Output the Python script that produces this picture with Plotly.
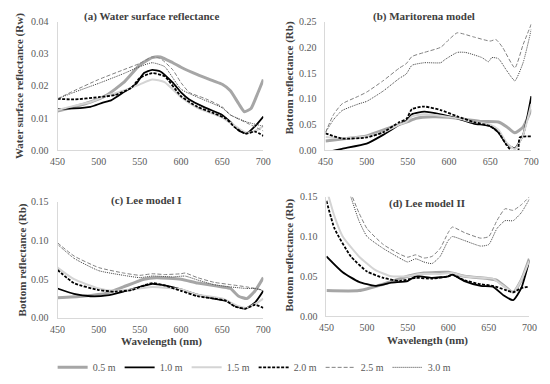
import plotly.graph_objects as go

# ---------------- data ----------------
SERIES_NAMES = ["0.5 m", "1.0 m", "1.5 m", "2.0 m", "2.5 m", "3.0 m"]

# (a) Water surface reflectance
A05_X = [450,470,490,510,530,550,565,575,590,600,620,640,650,660,670,677,685,692,700]
A05_Y = [0.0122,0.0135,0.015,0.0172,0.021,0.0265,0.0288,0.029,0.0272,0.0258,0.0235,0.0215,0.0205,0.0185,0.0145,0.012,0.013,0.017,0.022]
A10_X = [450,470,490,505,515,530,545,555,565,575,590,600,610,630,650,660,670,680,690,700]
A10_Y = [0.0128,0.013,0.0135,0.0148,0.0155,0.018,0.0205,0.024,0.025,0.0245,0.021,0.018,0.0158,0.0132,0.011,0.0088,0.0062,0.0053,0.0075,0.0105]
A15_X = [450,470,490,510,530,550,565,580,600,620,650,670,680,690,700]
A15_Y = [0.0125,0.0138,0.015,0.017,0.0185,0.0205,0.022,0.0212,0.0165,0.0132,0.0102,0.0068,0.0055,0.006,0.0075]
A20_X = [450,470,500,520,540,550,565,580,600,620,640,655,665,678,690,700]
A20_Y = [0.016,0.0158,0.0165,0.0172,0.0195,0.0225,0.024,0.023,0.0168,0.0135,0.0115,0.0098,0.0072,0.0052,0.0058,0.0045]
A25_X = [450,470,500,530,550,565,575,590,600,610,630,650,660,680,700]
A25_Y = [0.016,0.0185,0.022,0.025,0.027,0.029,0.0285,0.025,0.021,0.018,0.016,0.0135,0.011,0.0085,0.006]
A30_X = [450,470,500,530,550,565,580,600,620,650,660,680,700]
A30_Y = [0.016,0.018,0.0208,0.0238,0.026,0.0272,0.026,0.019,0.0165,0.0132,0.011,0.0088,0.0075]

# (b) Maritorena model
B05_X = [450,470,500,530,550,560,580,600,620,640,660,670,680,690,700]
B05_Y = [0.018,0.022,0.028,0.045,0.056,0.062,0.065,0.064,0.06,0.056,0.055,0.046,0.034,0.045,0.08]
B10_X = [450,470,500,520,540,548,555,570,590,610,630,650,660,670,680,690,700]
B10_Y = [-0.004,0.003,0.013,0.03,0.05,0.057,0.07,0.075,0.07,0.062,0.052,0.047,0.035,0.012,0.004,0.03,0.105]
B15_X = [450,470,500,520,540,548,555,570,590,610,630,650,660,670,680,690,700]
B15_Y = [0.026,0.024,0.027,0.035,0.05,0.055,0.066,0.07,0.067,0.062,0.055,0.05,0.04,0.015,0.002,0.03,0.09]
B20_X = [450,470,500,520,540,548,555,570,590,610,630,650,660,670,680,684,686,700]
B20_Y = [0.033,0.023,0.025,0.035,0.055,0.06,0.08,0.085,0.078,0.066,0.055,0.047,0.035,0.01,-0.01,-0.03,0.025,0.027]
B25_X = [450,460,470,490,500,520,540,548,555,570,590,600,610,630,650,657,665,680,690,700]
B25_Y = [0.035,0.07,0.09,0.105,0.113,0.135,0.16,0.168,0.182,0.19,0.2,0.215,0.228,0.22,0.212,0.215,0.2,0.16,0.205,0.245]
B30_X = [450,460,470,490,500,520,540,548,555,570,590,595,610,620,640,648,652,660,670,680,690,700]
B30_Y = [0.035,0.06,0.077,0.09,0.095,0.115,0.14,0.148,0.165,0.17,0.17,0.176,0.19,0.19,0.18,0.172,0.18,0.178,0.155,0.135,0.17,0.235]

# (c) Lee model I
C05_X = [450,480,510,530,555,570,600,620,650,660,670,680,690,700]
C05_Y = [0.026,0.028,0.032,0.04,0.05,0.052,0.05,0.045,0.04,0.038,0.028,0.025,0.035,0.052]
C10_X = [450,470,490,510,530,550,565,580,600,620,640,655,665,678,690,700]
C10_Y = [0.038,0.031,0.028,0.029,0.034,0.04,0.044,0.042,0.037,0.03,0.025,0.022,0.016,0.012,0.02,0.035]
C15_X = [450,470,500,520,550,565,590,600,620,650,670,680,690,700]
C15_Y = [0.065,0.05,0.038,0.035,0.038,0.04,0.038,0.037,0.03,0.025,0.015,0.013,0.018,0.025]
C20_X = [450,470,500,520,540,555,565,580,600,620,640,655,665,678,690,700]
C20_Y = [0.062,0.045,0.036,0.034,0.036,0.042,0.045,0.042,0.035,0.028,0.025,0.022,0.015,0.012,0.017,0.013]
C25_X = [450,470,500,530,550,565,580,600,605,620,640,660,680,700]
C25_Y = [0.097,0.08,0.065,0.058,0.055,0.057,0.056,0.057,0.058,0.052,0.046,0.043,0.04,0.036]
C30_X = [450,470,500,530,550,565,590,605,620,640,660,680,690,700]
C30_Y = [0.095,0.077,0.061,0.055,0.052,0.054,0.053,0.054,0.049,0.043,0.04,0.038,0.038,0.035]

# (d) Lee model II
D05_X = [450,490,520,550,570,600,620,650,660,680,690,700]
D05_Y = [0.032,0.032,0.04,0.05,0.054,0.055,0.05,0.047,0.045,0.03,0.045,0.072]
D10_X = [450,470,490,510,530,550,560,580,600,605,620,640,655,668,680,690,700]
D10_Y = [0.075,0.055,0.043,0.038,0.042,0.044,0.05,0.048,0.05,0.052,0.044,0.038,0.037,0.026,0.02,0.035,0.07]
D15_X = [450,460,470,490,510,530,550,565,590,605,620,640,655,665,680,690,700]
D15_Y = [0.16,0.125,0.1,0.075,0.058,0.05,0.05,0.053,0.053,0.054,0.05,0.048,0.047,0.04,0.03,0.045,0.07]
D20_X = [450,460,480,500,520,540,560,580,600,605,620,640,655,670,680,690,700]
D20_Y = [0.145,0.11,0.075,0.056,0.048,0.044,0.048,0.047,0.05,0.052,0.045,0.04,0.038,0.033,0.03,0.035,0.037]
D25_X = [470,480,490,500,520,540,550,560,570,580,590,600,605,620,640,650,660,670,680,690,700]
D25_Y = [0.185,0.155,0.13,0.11,0.09,0.078,0.074,0.077,0.073,0.075,0.085,0.105,0.112,0.105,0.098,0.1,0.12,0.135,0.133,0.14,0.15]
D30_X = [470,480,490,500,520,540,550,560,570,580,590,600,605,620,640,650,660,670,680,690,700]
D30_Y = [0.18,0.15,0.12,0.1,0.085,0.073,0.068,0.072,0.068,0.066,0.075,0.095,0.1,0.095,0.088,0.09,0.11,0.12,0.12,0.13,0.147]

PANEL_TITLES = ["(a) Water surface reflectance", "(b) Maritorena model", "(c) Lee model I", "(d) Lee model II"]
Y_TITLES = ["Water surface reflectance (Rw)", "Bottom reflectance (Rb)", "Bottom reflectance (Rb)", "Bottom reflectance (Rb)"]
X_TITLE = "Wavelength (nm)"
X_TICKS = [450, 500, 550, 600, 650, 700]

# ---------------- styles / layout ----------------
STYLES = [
    dict(color="#A6A6A6", width=3),
    dict(color="#000000", width=1.8),
    dict(color="#D4D4D4", width=2),
    dict(color="#000000", width=1.8, dash="3px,1.5px"),
    dict(color="#808080", width=1, dash="4px,2px"),
    dict(color="#404040", width=1, dash="1px,1px"),
]

panels = [
    [(A05_X, A05_Y), (A10_X, A10_Y), (A15_X, A15_Y), (A20_X, A20_Y), (A25_X, A25_Y), (A30_X, A30_Y)],
    [(B05_X, B05_Y), (B10_X, B10_Y), (B15_X, B15_Y), (B20_X, B20_Y), (B25_X, B25_Y), (B30_X, B30_Y)],
    [(C05_X, C05_Y), (C10_X, C10_Y), (C15_X, C15_Y), (C20_X, C20_Y), (C25_X, C25_Y), (C30_X, C30_Y)],
    [(D05_X, D05_Y), (D10_X, D10_Y), (D15_X, D15_Y), (D20_X, D20_Y), (D25_X, D25_Y), (D30_X, D30_Y)],
]

W, H = 550, 384
# pixel boxes: (left, right, top, bottom)
boxes = [(51, 263, 16, 149), (327, 539, 16, 149), (51, 263, 202, 322), (328, 537, 197, 320)]
y_ranges = [[0, 0.04], [0, 0.25], [0, 0.15], [0, 0.15]]
y_dticks = [0.01, 0.05, 0.05, 0.05]
title_pos = [(148, 11), (428, 11), (143, 201), (432, 204)]
ytitle_pos = [(12, 83), (290, 74), (15, 262), (290, 257)]
xtitle_pos = [None, None, (158, 346), (432, 345)]

FONT = "Liberation Serif, Times New Roman, DejaVu Serif, serif"
TICK_COLOR = "#595959"
TITLE_COLOR = "#404040"

fig = go.Figure()
layout = dict()
annotations = []


def ann(text, px, py, angle=0):
    return dict(
        text="<b>" + text + "</b>", xref="paper", yref="paper",
        x=px / W, y=1 - py / H, textangle=angle, xanchor="center", yanchor="middle",
        showarrow=False, font=dict(family=FONT, size=11, color=TITLE_COLOR),
    )


for i, (series, box) in enumerate(zip(panels, boxes)):
    n = "" if i == 0 else str(i + 1)
    l, r, t, b = box
    layout["xaxis" + n] = dict(
        domain=[l / W, r / W], range=[450, 700], tickvals=X_TICKS, showgrid=False,
        zeroline=False, showline=True, linecolor="#D9D9D9", linewidth=1, ticks="",
        anchor="y" + n, ticklabelstandoff=2,
        tickfont=dict(family=FONT, size=10, color=TICK_COLOR),
    )
    layout["yaxis" + n] = dict(
        domain=[1 - b / H, 1 - t / H], range=y_ranges[i], dtick=y_dticks[i],
        tickformat=".2f", showgrid=False, zeroline=False, showline=True,
        linecolor="#D9D9D9", linewidth=1, ticks="", ticklabelstandoff=6,
        anchor="x" + n, tickfont=dict(family=FONT, size=10, color=TICK_COLOR),
    )
    for j, (xs, ys) in enumerate(series):
        line = dict(STYLES[j], shape="spline", smoothing=0.5)
        fig.add_trace(go.Scatter(
            x=xs, y=ys, mode="lines", name=SERIES_NAMES[j], line=line,
            xaxis="x" + n, yaxis="y" + n, showlegend=(i == 0), legendrank=j,
        ))
    annotations.append(ann(PANEL_TITLES[i], *title_pos[i]))
    annotations.append(ann(Y_TITLES[i], *ytitle_pos[i], angle=-90))
    if xtitle_pos[i]:
        annotations.append(ann(X_TITLE, *xtitle_pos[i]))

fig.update_layout(
    **layout,
    annotations=annotations,
    width=W, height=H,
    margin=dict(l=0, r=0, t=0, b=0),
    paper_bgcolor="white", plot_bgcolor="white",
    font=dict(family=FONT, color=TICK_COLOR),
    legend=dict(
        orientation="h", x=0.46, y=1 - 373 / H, xanchor="center", yanchor="middle",
        font=dict(family=FONT, size=10, color=TICK_COLOR), entrywidth=22,
        itemwidth=30, traceorder="normal", bgcolor="rgba(0,0,0,0)",
    ),
)

fig.write_html(
    "out.html",
    config={"displayModeBar": False},
    post_script="document.body.style.margin='0';document.body.style.padding='0';document.body.style.overflow='hidden';",
)
